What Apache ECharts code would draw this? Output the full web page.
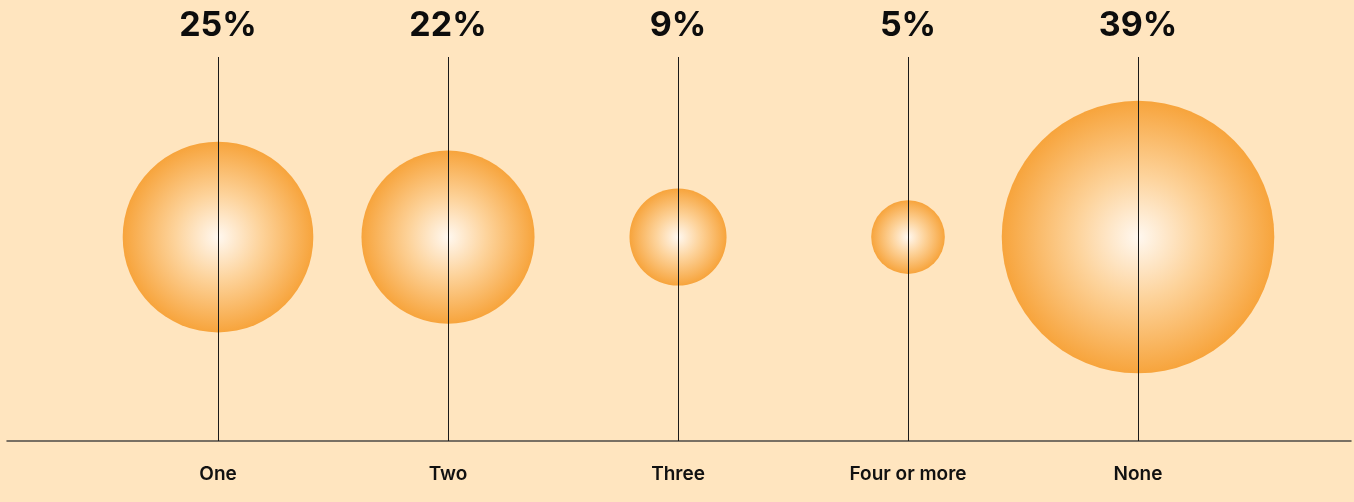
<!DOCTYPE html>
<html>
<head>
<meta charset="utf-8">
<script src="https://cdn.jsdelivr.net/npm/echarts@6/dist/echarts.min.js"></script>
<style>
html,body{margin:0;padding:0;background:#FFE5BF;}
#c{width:1354px;height:502px;}
</style>
</head>
<body>
<div id="c"></div>
<script>
const categories = ['One', 'Two', 'Three', 'Four or more', 'None'];
const values = [25, 22, 9, 5, 39];
const percentLabels = ['25%', '22%', '9%', '5%', '39%'];

const chart = echarts.init(document.getElementById('c'), null, {renderer: 'canvas'});
const idx = categories.map((c, i) => i);
const BUBBLE_Y = 0.531;

const option = {
  backgroundColor: '#FFE5BF',
  animation: false,
  grid: {left: 7, right: 3, top: 57, bottom: 61},
  xAxis: {
    type: 'value',
    min: -0.9174,
    max: 4.926,
    splitLine: {show: false},
    axisTick: {show: false},
    axisLine: {show: true, lineStyle: {color: '#4d4a45', width: 1.5}},
    axisLabel: {
      customValues: idx,
      formatter: v => categories[Math.round(v)],
      margin: 24,
      color: '#111',
      fontFamily: 'Inter',
      fontWeight: 600,
      fontSize: 19
    }
  },
  yAxis: {
    type: 'value', min: 0, max: 1, show: false
  },
  series: [
    {
      type: 'scatter',
      z: 2,
      data: values.map((v, i) => [i, BUBBLE_Y, v]),
      symbolSize: d => 44.4 + 5.85 * d[2],
      itemStyle: {
        opacity: 1,
        color: {
          type: 'radial', x: 0.5, y: 0.5, r: 0.5,
          colorStops: [
            {offset: 0, color: '#FFF8F0'},
            {offset: 0.45, color: '#FDD39B'},
            {offset: 1, color: '#F7A43C'}
          ]
        }
      },
      emphasis: {disabled: true}
    },
    {
      type: 'scatter',
      z: 5,
      data: idx.map(i => [i, 1]),
      symbolSize: 0,
      itemStyle: {opacity: 1},
      label: {
        show: true,
        position: 'inside',
        offset: [0, -31],
        formatter: p => percentLabels[p.dataIndex],
        color: '#0d0d0d',
        fontFamily: 'Inter',
        fontWeight: 700,
        fontSize: 34
      },
      markLine: {
        silent: true,
        symbol: ['none', 'none'],
        label: {show: false},
        lineStyle: {color: '#1a1a1a', width: 1, type: 'solid', opacity: 1},
        data: idx.map(i => [{coord: [i, 0]}, {coord: [i, 1]}])
      },
      emphasis: {disabled: true}
    }
  ]
};
chart.setOption(option);
</script>
</body>
</html>
